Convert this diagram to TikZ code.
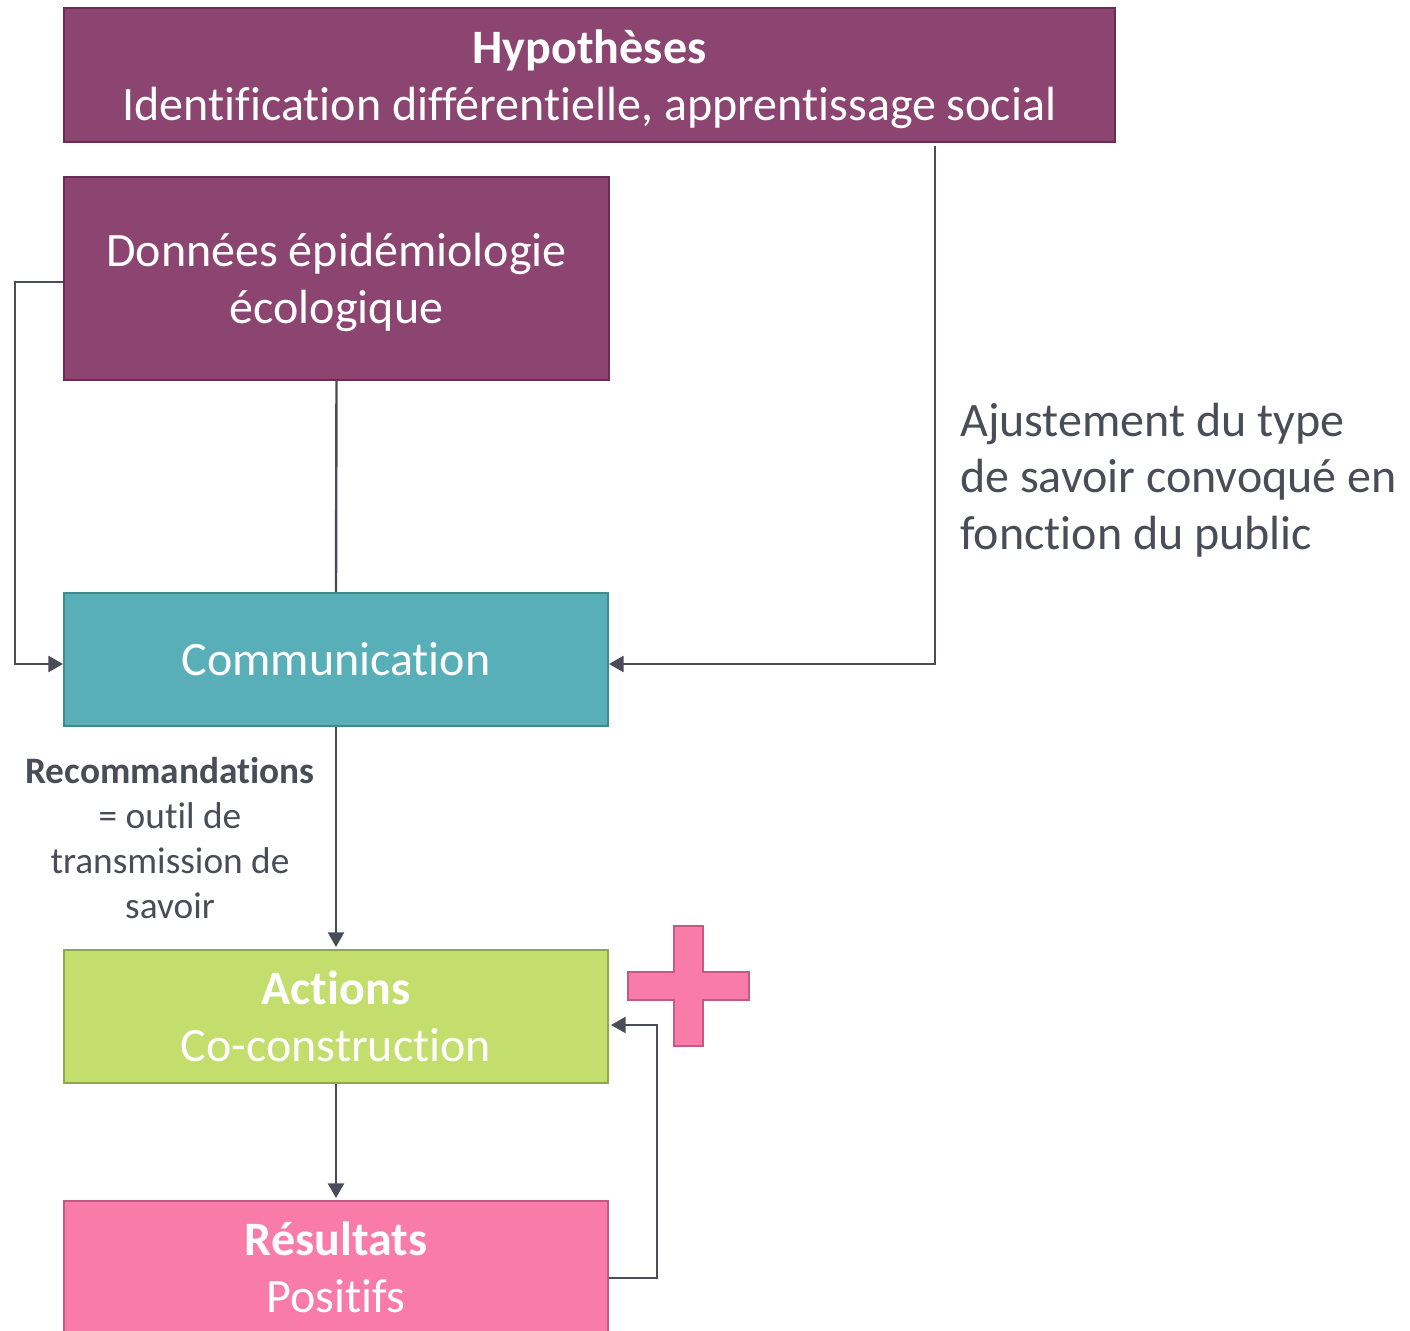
\documentclass[tikz,border=0pt]{standalone}
\usepackage{fontspec}
\setmainfont{Carlito}[Ligatures=NoCommon]
\usetikzlibrary{arrows.meta,calc}
\definecolor{purpfill}{HTML}{8C4470}
\definecolor{purpdraw}{HTML}{6A2C52}
\definecolor{tealfill}{HTML}{58AFB8}
\definecolor{tealdraw}{HTML}{3E8B8E}
\definecolor{greenfill}{HTML}{C4DE6E}
\definecolor{greendraw}{HTML}{8FA84E}
\definecolor{pinkfill}{HTML}{F97BA8}
\definecolor{pinkdraw}{HTML}{C25A83}
\definecolor{linecol}{HTML}{4A4D58}
\tikzset{
  box/.style={draw, line width=1.5pt, inner sep=0pt, align=center, text=white,
    font=\fontsize{36}{42.5}\selectfont},
  conn/.style={draw=linecol, line width=1.8pt},
  arr/.style={conn, -{Triangle[length=11pt,width=12pt]}},
  note/.style={text=linecol, inner sep=0pt},
}
\begin{document}
\begin{tikzpicture}[x=0.75pt,y=-0.75pt]
\useasboundingbox (0,0) rectangle (1410,1331);
\node[box, fill=purpfill, draw=purpdraw, minimum width=1051*0.75pt, minimum height=134*0.75pt] (hyp) at (589.5,75)
  {\textbf{Hypothèses}\\\smash{Identification différentielle, apprentissage social}};
\node[box, fill=purpfill, draw=purpdraw, minimum width=545*0.75pt, minimum height=203*0.75pt] (don) at (336.5,278.5)
  {Données épidémiologie\\\smash{écologique}};
\node[box, fill=tealfill, draw=tealdraw, minimum width=544*0.75pt, minimum height=133*0.75pt] (com) at (336,659.5)
  {Communication};
\node[box, fill=greenfill, draw=greendraw, minimum width=544*0.75pt, minimum height=133*0.75pt] (act) at (336,1016.5)
  {\textbf{Actions}\\Co-construction};
\node[box, fill=pinkfill, draw=pinkdraw, minimum width=544*0.75pt, minimum height=133*0.75pt] (res) at (336,1267.5)
  {\textbf{Résultats}\\Positifs};
% plus sign
\filldraw[fill=pinkfill, draw=pinkdraw, line width=1.5pt]
  (674,926) -- (703,926) -- (703,972) -- (749,972) -- (749,1000) -- (703,1000) -- (703,1046)
  -- (674,1046) -- (674,1000) -- (628,1000) -- (628,972) -- (674,972) -- cycle;
% annotations
\node[note, anchor=west, align=left, font=\fontsize{36}{42.5}\selectfont] (ajust) at (960,480)
  {Ajustement du type\\de savoir convoqué en\\fonction du public};
\node[note, align=center, font=\fontsize{28}{33.75}\selectfont] (reco) at (170,838)
  {\textbf{Recommandations}\\= outil de\\transmission de\\savoir};
% connectors
\coordinate (hr) at ($(hyp.south)+(345.5,3)$);
\draw[conn] (don.south) -- (com.north);
\draw[arr] ($(don.west)+(0,3.5)$) -- ++(-48,0) |- ($(com.west)+(0,4.5)$);
\draw[arr] (hr) |- ($(com.east)+(0,4.5)$);
\draw[arr] (com.south) -- ($(act.north)+(0,-2)$);
\draw[arr] (act.south) -- ($(res.north)+(0,-2)$);
\draw[arr] ($(res.east)+(0,10.5)$) -- ++(48,0) |- ($(act.east)+(2,8.5)$);
\end{tikzpicture}
\end{document}
